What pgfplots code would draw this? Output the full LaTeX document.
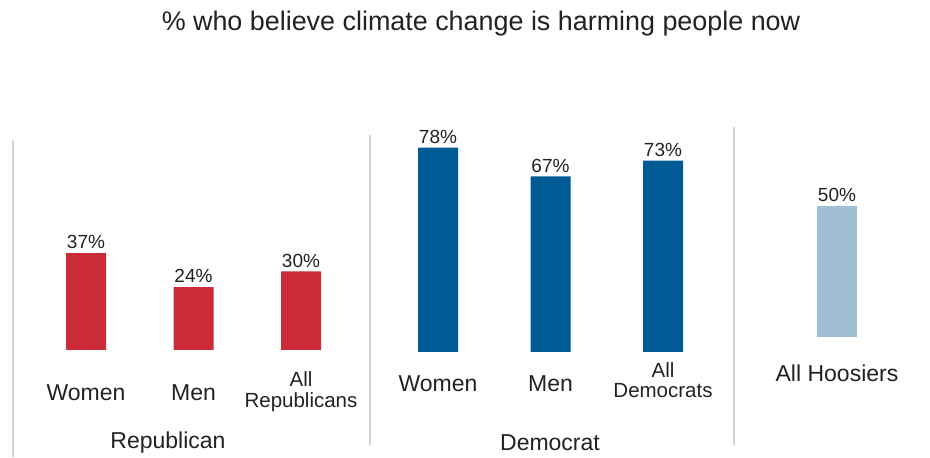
\documentclass[border=0pt]{standalone}
\usepackage{pgfplots}
\pgfplotsset{compat=1.18}
\usepackage{fontspec}
\setmainfont{Liberation Sans}

\definecolor{repred}{HTML}{CC2B3A}
\definecolor{demblue}{HTML}{005A94}
\definecolor{allblue}{HTML}{A1BFD4}
\definecolor{txt}{HTML}{222222}
\definecolor{sepline}{HTML}{D2D2D2}

\newcommand{\twoline}[2]{\fontsize{20.5}{20}\selectfont\begin{tabular}{@{}c@{}}#1\\#2\end{tabular}}

\pgfplotsset{
  panel/.style={
    ybar, bar width=40pt, y=2.62pt, ymin=0, ymax=80,
    enlargelimits=false, clip=false, anchor=south west,
    axis line style={draw=none}, major tick style={draw=none},
    ytick=\empty, xtick=data,
    /pgf/number format/assume math mode=true,
    xticklabel style={anchor=center, text=txt, font=\fontsize{23}{26}\selectfont},
    nodes near coords={\pgfmathprintnumber{\pgfplotspointmeta}\%},
    nodes near coords style={anchor=south, inner sep=0pt, yshift=4pt,
      text=txt, font=\fontsize{19}{22}\selectfont},
  }
}

\begin{document}
\begin{tikzpicture}
\useasboundingbox (0,0) rectangle (930pt,458pt);

% title
\node[text=txt, font=\fontsize{26.9}{30}\selectfont] at (481pt,434pt)
  {\% who believe climate change is harming people now};

% panel separators
\draw[sepline, line width=1.5pt] (13pt,1pt) -- (13pt,318pt);
\draw[sepline, line width=1.5pt] (370pt,13pt) -- (370pt,323pt);
\draw[sepline, line width=1.5pt] (734pt,13pt) -- (734pt,331pt);

% Republicans
\begin{axis}[panel, at={(32.25pt,108pt)}, x=107.5pt, xmin=-0.5, xmax=2.5,
  xticklabels={Women, Men, {\twoline{All}{Republicans}}},
  xticklabel style={yshift=-38pt}]
\addplot[fill=repred, draw=none] coordinates {(0,37) (1,24) (2,30)};
\end{axis}

% Democrats
\begin{axis}[panel, at={(381.75pt,106pt)}, x=112.5pt, xmin=-0.5, xmax=2.5,
  xticklabels={Women, Men, {\twoline{All}{Democrats}}},
  xticklabel style={yshift=-27pt}]
\addplot[fill=demblue, draw=none] coordinates {(0,78) (1,67) (2,73)};
\end{axis}

% All respondents
\begin{axis}[panel, at={(787pt,121pt)}, x=100pt, xmin=-0.5, xmax=0.5,
  xticklabels={All Hoosiers},
  xticklabel style={yshift=-32pt}]
\addplot[fill=allblue, draw=none] coordinates {(0,50)};
\end{axis}

% group labels
\node[text=txt, font=\fontsize{23}{26}\selectfont] at (168pt,15pt) {Republican};
\node[text=txt, font=\fontsize{23}{26}\selectfont] at (550pt,15pt) {Democrat};
\end{tikzpicture}
\end{document}
